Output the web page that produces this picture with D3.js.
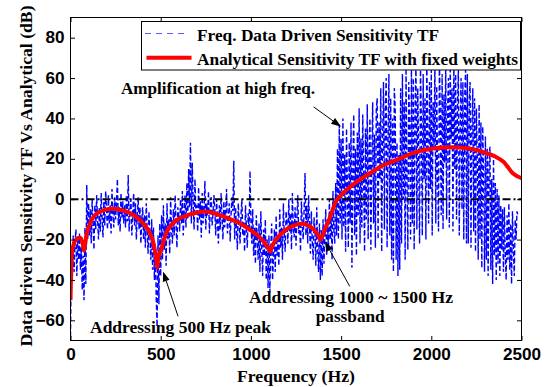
<!DOCTYPE html>
<html>
<head>
<meta charset="utf-8">
<script src="https://cdn.jsdelivr.net/npm/d3@7"></script>
<style>
  html, body { margin: 0; padding: 0; background: #fff; }
  svg { display: block; }
  .tick line { stroke: #000; stroke-width: 1; }
</style>
</head>
<body>
<svg id="chart" width="548" height="387"></svg>
<script>
// Axis ticks
const xTicks = [0, 500, 1000, 1500, 2000, 2500];
const yTicks = [-60, -40, -20, 0, 20, 40, 60, 80];

// Series names
const seriesNames = ["Freq. Data Driven Sensitivity TF", "Analytical Sensitivity TF with fixed weights"];

// Frequency-data-driven sensitivity (dB), sampled every 5 Hz from 0 Hz
const measuredStartHz = 0;
const measuredStepHz = 5;
const measuredDb = [
  -68, -25, -40, -18, -36, -22, -15, -38, -20, -30, -17, -35, -24, -45, -28, -50, -14, -42, 7, -20,
  -2, -18, -5, -22, 0, -12, -25, -3, -15, 2, -10, -20, -4, -16, 3, -9, -19, -1, -13, 4,
  -6, -15, 2, -12, -3, -17, 5, -8, -14, 1, -10, -2, 10, -13, -4, -16, 3, -9, -1, -12,
  -3, -14, 2, -11, 12, -16, -5, 0, -18, -7, 3, -13, -2, -20, -8, 1, -15, -4, -22, -10,
  -4, -20, -8, -24, -2, -15, -27, -6, -18, -30, -10, -35, -14, -40, -22, -48, -63, -18, -52, -12,
  -38, -8, -30, -3, -25, -12, -33, -2, -20, -10, -27, 1, -15, -22, -5, -18, 2, -12, -24, -4,
  -8, -16, 0, -12, 4, -18, -6, 2, -14, 8, -10, 15, -4, 28, -12, 18, -2, -15, 10, -7,
  -3, -16, 6, -10, -1, -19, 3, -12, -6, 9, -15, -2, -8, 4, -17, -4, 1, -13, -7, 2,
  -5, -18, 0, -12, -22, -3, -15, 3, -9, -20, -1, -14, -6, 5, -17, -10, -2, -21, -8, 1,
  -6, 19, -20, -4, -15, -25, -2, -12, -22, -8, 0, -18, -11, -26, -3, -14, -24, -7, -16, 14,
  -10, -22, -5, -28, -14, -32, -8, -19, -30, -12, -36, -6, -24, -38, -15, -28, -10, -40, -20, -44,
  -18, -46, -25, -12, -40, -30, -15, -36, -8, -28, -20, -33, -5, -24, -14, -30, -2, -18, -26, -6,
  -12, -22, 0, -16, -7, -25, 3, -14, -19, -4, -23, -9, 2, -17, -11, -26, -1, -13, -20, -5,
  13, -18, -3, -22, 2, -13, -27, -6, -20, -30, -9, -16, -33, -4, -24, -36, -12, -40, -15, -38,
  -10, -32, -18, -5, -28, -12, -25, 0, -20, -8, -30, 4, -15, -22, 8, -18, 25, -20, 37, -12,
  30, -20, 40, -14, 22, -26, 35, 5, -24, 28, -12, 38, -34, 15, 42, -18, 25, -28, 33, -8,
  45, -22, 30, -14, 42, 10, -26, 35, -10, 47, -20, 25, 40, -25, 18, 48, -12, 32, -24, 44,
  50, -20, 38, 10, 55, -26, 28, 58, -15, 45, 60, -24, 30, 62, -18, 50, -30, 40, -36, 55,
  45, -30, 28, -38, 22, -35, 55, -22, 62, 0, 48, -30, 65, 10, -25, 58, 35, -20, 66, -12,
  60, -25, 45, 68, -15, 55, 20, -22, 66, 38, -18, 62, 10, 50, -20, 70, 30, -12, 58, 5,
  64, -18, 48, 25, 68, -12, 56, 12, -16, 70, 40, -8, 62, -15, 52, 18, 66, -10, 44, 60,
  -14, 66, 30, 55, -16, 68, 15, 62, -10, 45, 64, -18, 35, 60, -5, 58, -20, 50, 64, -22,
  62, -22, 48, 58, -24, 35, 55, -16, 50, -26, 45, 20, -30, 47, -20, 38, -34, 36, 12, -36,
  31, -30, 25, -38, 18, 26, -35, 10, -42, 20, -28, 8, -40, 5, -32, 2, -38, -3, -25, -5,
  -36, -4, -28, -40, -8, -30, -2, -35, -12, -42, -6, -25, -38, -10, -20, -6, -8
];

// Analytical sensitivity with fixed weights
const analyticalHz = [0, 3, 7, 15, 31, 55, 66, 74, 80, 96, 133, 189, 263, 355, 429, 455, 470, 478, 481, 484, 490, 503, 540, 596, 652, 746, 857, 968, 1061, 1090, 1104, 1107, 1110, 1125, 1153, 1209, 1283, 1329, 1366, 1380, 1385, 1390, 1398, 1413, 1440, 1477, 1551, 1644, 1737, 1829, 1885, 2000, 2117, 2200, 2250, 2300, 2357, 2400, 2450, 2480, 2500];
const analyticalDb = [-50, -38, -28, -23, -20, -19.2, -21.5, -25.4, -23, -15, -8.2, -5.3, -5, -8.2, -15, -20, -26.7, -31, -34, -31, -28, -25, -15, -9.9, -7.8, -6.1, -8.9, -13.5, -20, -23.5, -25.5, -26, -25.3, -22, -18.5, -14.3, -12.2, -13.5, -16.8, -19, -20.2, -19.3, -18, -14.5, -8.6, -0.3, 6.2, 12, 16.9, 20.2, 22.5, 25, 25.7, 25.2, 24.3, 23, 21, 18.6, 13, 11.2, 10.4];

// Plot geometry
const plot = { left: 70.5, right: 521.5, top: 17.5, bottom: 340.5 };
const SERIF = '"Liberation Serif", "Times New Roman", serif';
const SANS = '"Liberation Sans", Arial, sans-serif';

const svg = d3.select("#chart");
const x = d3.scaleLinear().domain([0, 2500]).range([plot.left, plot.right]);
const y = d3.scaleLinear().domain([-70, 90]).range([plot.bottom, plot.top]);

svg.append("defs").append("clipPath").attr("id", "plotClip")
  .append("rect")
  .attr("x", plot.left).attr("y", plot.top)
  .attr("width", plot.right - plot.left).attr("height", plot.bottom - plot.top);

const dataLayer = svg.append("g").attr("clip-path", "url(#plotClip)");

// Measured response: dashed blue
const measuredLine = d3.line()
  .x((d, i) => x(measuredStartHz + i * measuredStepHz))
  .y(d => y(d));
dataLayer.append("path")
  .datum(measuredDb)
  .attr("d", measuredLine)
  .attr("fill", "none")
  .attr("stroke", "#0000ff")
  .attr("stroke-width", 1.4)
  .attr("stroke-dasharray", "5,2.5");

// 0 dB reference: black dash-dot
dataLayer.append("line")
  .attr("x1", x(0)).attr("x2", x(2500))
  .attr("y1", y(0)).attr("y2", y(0))
  .attr("stroke", "#000")
  .attr("stroke-width", 2)
  .attr("stroke-dasharray", "8,3,2,3");

// Analytical response: solid red
const analyticalLine = d3.line()
  .curve(d3.curveCatmullRom.alpha(0.5))
  .x(d => x(d[0]))
  .y(d => y(d[1]));
dataLayer.append("path")
  .datum(analyticalHz.map((f, i) => [f, analyticalDb[i]]))
  .attr("d", analyticalLine)
  .attr("fill", "none")
  .attr("stroke", "#ff0000")
  .attr("stroke-width", 4)
  .attr("stroke-linejoin", "round");

// Axes (ticks pointing inward on all four sides)
const tick = 4.5;
svg.append("g").attr("transform", `translate(0,${plot.bottom})`)
  .call(d3.axisBottom(x).tickValues(xTicks).tickSize(-tick).tickPadding(8).tickFormat(d3.format("d")));
svg.append("g").attr("transform", `translate(${plot.left},0)`)
  .call(d3.axisLeft(y).tickValues(yTicks).tickSize(-tick).tickPadding(6).tickFormat(d3.format("d")));
svg.append("g").attr("transform", `translate(0,${plot.top})`)
  .call(d3.axisTop(x).tickValues(xTicks).tickSize(-tick).tickFormat(""));
svg.append("g").attr("transform", `translate(${plot.right},0)`)
  .call(d3.axisRight(y).tickValues(yTicks).tickSize(-tick).tickFormat(""));
svg.selectAll(".domain").remove();

// Tick label font, widened slightly
svg.selectAll(".tick text")
  .style("font-family", SANS)
  .style("font-weight", "bold")
  .style("font-size", "16px")
  .style("fill", "#000")
  .each(function () {
    const len = this.getComputedTextLength();
    if (len > 0) d3.select(this).attr("textLength", len * 1.07).attr("lengthAdjust", "spacingAndGlyphs");
  });

// Frame
svg.append("rect")
  .attr("x", plot.left).attr("y", plot.top)
  .attr("width", plot.right - plot.left).attr("height", plot.bottom - plot.top)
  .attr("fill", "none").attr("stroke", "#000").attr("stroke-width", 1);

// Serif bold text with a fixed drawn width
function label(txt, px, py, width, anchor) {
  return svg.append("text")
    .style("font-family", SERIF)
    .style("font-weight", "bold")
    .style("font-size", "17px")
    .style("fill", "#000")
    .attr("x", px).attr("y", py)
    .attr("text-anchor", anchor || "start")
    .attr("textLength", width).attr("lengthAdjust", "spacingAndGlyphs")
    .text(txt);
}

// Axis titles
label("Frequency (Hz)", 296, 381.5, 118, "middle");
label("Data driven Sensitivity TF Vs Analytical (dB)", 0, 0, 341, "middle")
  .attr("transform", "translate(31.5,176) rotate(-90)");

// Legend
const lg = svg.append("g");
lg.append("rect")
  .attr("x", 141.5).attr("y", 21.5).attr("width", 379).attr("height", 48.5)
  .attr("fill", "#fff").attr("stroke", "#000").attr("stroke-width", 1);
lg.append("line")
  .attr("x1", 145).attr("x2", 188).attr("y1", 33.5).attr("y2", 33.5)
  .attr("stroke", "#5a5aff").attr("stroke-width", 1.2)
  .attr("stroke-dasharray", "6,5");
lg.append("line")
  .attr("x1", 146.5).attr("x2", 191.5).attr("y1", 57.7).attr("y2", 57.7)
  .attr("stroke", "#ff0000").attr("stroke-width", 4);
label(seriesNames[0], 197, 41, 242);
label(seriesNames[1], 197, 65, 321);

// Annotations
label("Amplification at high freq.", 121, 94, 194);
label("Addressing 500 Hz peak", 90, 333, 181);
label("Addressing 1000 ~ 1500 Hz", 249, 302.7, 204);
label("passband", 315.7, 321.5, 69);

function arrow(tail, tip) {
  const x0 = x(tail[0]), y0 = y(tail[1]);
  const x1 = x(tip[0]), y1 = y(tip[1]);
  const ang = Math.atan2(y1 - y0, x1 - x0);
  const headLen = 10, headHalf = 3.5;
  const bx = x1 - headLen * Math.cos(ang), by = y1 - headLen * Math.sin(ang);
  svg.append("line")
    .attr("x1", x0).attr("y1", y0).attr("x2", bx).attr("y2", by)
    .attr("stroke", "#000").attr("stroke-width", 1);
  const px = -Math.sin(ang), py = Math.cos(ang);
  svg.append("path")
    .attr("d", `M${x1},${y1}L${bx + headHalf * px},${by + headHalf * py}L${bx - headHalf * px},${by - headHalf * py}Z`)
    .attr("fill", "#000");
}
arrow([1348, 45.7], [1500, 35.9]);
arrow([596, -58], [513, -35.8]);
arrow([1548, -43.2], [1410, -20.9]);
</script>
</body>
</html>
